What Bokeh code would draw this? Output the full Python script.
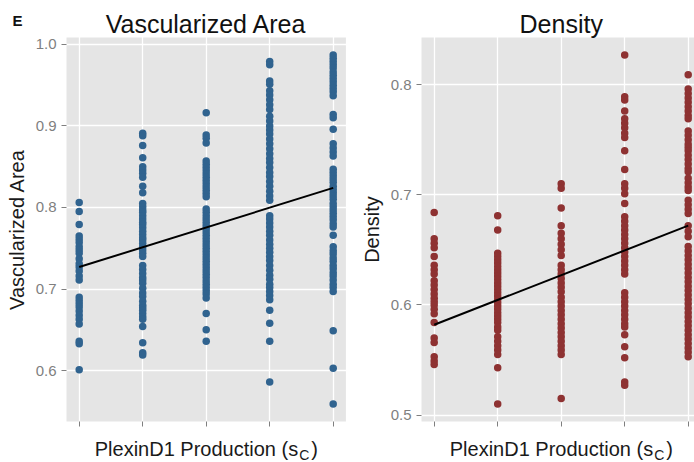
from bokeh.plotting import figure
from bokeh.layouts import row
from bokeh.models import FixedTicker, Label, Range1d
from bokeh.embed import file_html
from bokeh.resources import INLINE

# ---------------- data ----------------
levels = [1, 2, 3, 4, 5]

area_s1 = [0.806, 0.795, 0.779, 0.765, 0.761, 0.757, 0.752, 0.748, 0.744, 0.737, 0.731,
           0.727, 0.722, 0.716, 0.711, 0.690, 0.686, 0.682, 0.678, 0.673, 0.668, 0.663,
           0.657, 0.636, 0.633, 0.601]
area_s2 = [0.891, 0.888, 0.876, 0.861, 0.850, 0.846, 0.842, 0.837, 0.826, 0.818, 0.805,
           0.801, 0.797, 0.794, 0.790, 0.786, 0.782, 0.779, 0.775, 0.771, 0.767, 0.763,
           0.760, 0.756, 0.752, 0.748, 0.744, 0.740, 0.729, 0.724, 0.719, 0.714, 0.711,
           0.707, 0.701, 0.695, 0.691, 0.685, 0.680, 0.677, 0.674, 0.670, 0.666, 0.663,
           0.654, 0.634, 0.622, 0.619]
area_s3 = [0.916, 0.889, 0.885, 0.879, 0.857, 0.853, 0.849, 0.845, 0.841, 0.837, 0.833,
           0.829, 0.825, 0.821, 0.817, 0.813, 0.798, 0.794, 0.790, 0.786, 0.782, 0.778,
           0.774, 0.770, 0.766, 0.762, 0.758, 0.754, 0.750, 0.746, 0.742, 0.738, 0.734,
           0.730, 0.726, 0.722, 0.718, 0.714, 0.710, 0.706, 0.702, 0.698, 0.694, 0.689,
           0.670, 0.650, 0.636]
area_s4 = [0.979, 0.975, 0.955, 0.951, 0.943, 0.938, 0.932, 0.926, 0.920, 0.912, 0.906,
           0.900, 0.895, 0.890, 0.884, 0.878, 0.872, 0.866, 0.860, 0.855, 0.849, 0.843,
           0.838, 0.832, 0.826, 0.820, 0.814, 0.809, 0.790, 0.786, 0.781, 0.776, 0.771,
           0.766, 0.760, 0.755, 0.750, 0.745, 0.740, 0.735, 0.729, 0.723, 0.717, 0.712,
           0.706, 0.702, 0.697, 0.692, 0.687, 0.674, 0.658, 0.636, 0.586]
area_s5 = [0.987, 0.983, 0.979, 0.975, 0.971, 0.966, 0.962, 0.958, 0.954, 0.950, 0.946,
           0.942, 0.937, 0.914, 0.910, 0.896, 0.878, 0.873, 0.868, 0.863, 0.847, 0.843,
           0.839, 0.835, 0.831, 0.826, 0.822, 0.818, 0.814, 0.810, 0.805, 0.801, 0.797,
           0.793, 0.789, 0.785, 0.780, 0.776, 0.766, 0.752, 0.747, 0.743, 0.738, 0.734,
           0.729, 0.725, 0.720, 0.716, 0.711, 0.706, 0.702, 0.697, 0.649, 0.603, 0.559]

density_s1 = [0.684, 0.660, 0.656, 0.652, 0.644, 0.636, 0.632, 0.628, 0.622, 0.618, 0.614,
              0.610, 0.606, 0.603, 0.600, 0.596, 0.592, 0.584, 0.570, 0.566, 0.553, 0.549,
              0.546]
density_s2 = [0.681, 0.668, 0.647, 0.644, 0.641, 0.638, 0.635, 0.632, 0.629, 0.626, 0.623,
              0.620, 0.617, 0.614, 0.611, 0.608, 0.605, 0.602, 0.599, 0.596, 0.593, 0.590,
              0.587, 0.584, 0.580, 0.577, 0.571, 0.567, 0.563, 0.559, 0.555, 0.543, 0.510]
density_s3 = [0.710, 0.706, 0.688, 0.672, 0.665, 0.660, 0.655, 0.650, 0.645, 0.636, 0.632,
              0.628, 0.624, 0.620, 0.616, 0.612, 0.607, 0.603, 0.599, 0.595, 0.591, 0.587,
              0.583, 0.579, 0.575, 0.571, 0.567, 0.563, 0.559, 0.555, 0.515]
density_s4 = [0.827, 0.789, 0.786, 0.776, 0.769, 0.765, 0.761, 0.756, 0.752, 0.740, 0.723,
              0.710, 0.706, 0.701, 0.692, 0.680, 0.676, 0.672, 0.668, 0.664, 0.660, 0.656,
              0.652, 0.648, 0.644, 0.640, 0.636, 0.632, 0.628, 0.611, 0.607, 0.603, 0.599,
              0.595, 0.591, 0.587, 0.583, 0.580, 0.573, 0.562, 0.552, 0.530, 0.527]
density_s5 = [0.809, 0.796, 0.792, 0.788, 0.784, 0.780, 0.776, 0.772, 0.769, 0.758, 0.754,
              0.750, 0.746, 0.743, 0.740, 0.736, 0.732, 0.728, 0.724, 0.721, 0.715, 0.711,
              0.707, 0.704, 0.695, 0.691, 0.687, 0.683, 0.672, 0.667, 0.662, 0.653, 0.649,
              0.645, 0.641, 0.637, 0.633, 0.629, 0.625, 0.621, 0.617, 0.613, 0.609, 0.605,
              0.601, 0.597, 0.593, 0.589, 0.585, 0.581, 0.577, 0.573, 0.569, 0.565, 0.561,
              0.557, 0.553]

fit_x = [1, 5]
area_fit = [0.727, 0.824]
density_fit = [0.582, 0.672]

area_ticks = [0.6, 0.7, 0.8, 0.9, 1.0]
area_tick_labels = ["0.6", "0.7", "0.8", "0.9", "1.0"]
density_ticks = [0.5, 0.6, 0.7, 0.8]
density_tick_labels = ["0.5", "0.6", "0.7", "0.8"]

titles = ["Vascularized Area", "Density"]
x_label = "PlexinD1 Production (s"
x_label_sub = "C"

# ---------------- styling / layout ----------------
FONT = "Liberation Sans"
BLUE = "#30638F"
RED = "#8E3232"
PANEL = "#E5E5E5"
GREY = "#7F7F7F"
TEXT = "#1A1A1A"

H = 462
PANEL_TOP = 37        # px from top of canvas
PANEL_BOTTOM = 421    # px from top of canvas
UNIT_PX = 63.5        # px per x unit


def make_panel(groups, fit, yticks, ylabels, title, color, width, panel_left, x_end,
               panel_letter=None):
    xs, ys = [], []
    for lvl, vals in zip(levels, groups):
        xs += [lvl] * len(vals)
        ys += vals
    lo, hi = min(ys), max(ys)
    pad = 0.05 * (hi - lo)
    y0, y1 = lo - pad, hi + pad
    x0 = 0.8

    # full-canvas frame, panel region mapped to its pixel box
    ppu_y = (PANEL_BOTTOM - PANEL_TOP) / (y1 - y0)
    yr = Range1d(y0 - (H - PANEL_BOTTOM) / ppu_y, y1 + PANEL_TOP / ppu_y)
    xr = Range1d(x0 - panel_left / UNIT_PX, x0 + (width - panel_left) / UNIT_PX)

    p = figure(width=width, height=H, output_backend="svg", toolbar_location=None,
               x_range=xr, y_range=yr,
               min_border_left=0, min_border_right=0, min_border_top=0, min_border_bottom=0)
    p.title.visible = False
    p.background_fill_color = "white"
    p.border_fill_color = "white"
    p.outline_line_color = None

    # grey panel
    p.quad(left=[x0], right=[x_end], bottom=[y0], top=[y1], fill_color=PANEL,
           line_color=None, level="image")

    p.scatter(xs, ys, size=7.5, fill_color=color, line_color=None)
    p.line(fit_x, fit, line_color="black", line_width=2)

    # y axis, pinned to the panel's left edge
    ya = p.yaxis[0]
    ya.fixed_location = x0
    ya.bounds = (y0, y1)
    ya.ticker = FixedTicker(ticks=yticks)
    ya.major_label_overrides = {t: l for t, l in zip(yticks, ylabels)}
    ya.minor_tick_line_color = None
    ya.axis_line_color = None
    ya.major_tick_line_color = GREY
    ya.major_tick_out = 5
    ya.major_tick_in = 0
    ya.major_label_standoff = 5
    ya.major_label_text_color = GREY
    ya.major_label_text_font = FONT
    ya.major_label_text_font_size = "15px"
    ya.axis_label = title
    ya.axis_label_text_font = FONT
    ya.axis_label_text_font_style = "normal"
    ya.axis_label_text_font_size = "20px"
    ya.axis_label_text_color = TEXT
    ya.axis_label_standoff = 5

    # x axis, pinned to the panel's bottom edge
    xa = p.xaxis[0]
    xa.fixed_location = y0
    xa.ticker = FixedTicker(ticks=levels)
    xa.major_label_overrides = {t: "" for t in levels}
    xa.minor_tick_line_color = None
    xa.axis_line_color = None
    xa.major_tick_line_color = GREY
    xa.major_tick_out = 5
    xa.major_tick_in = 0

    p.xgrid.ticker = FixedTicker(ticks=levels)
    for g in (p.xgrid[0], p.ygrid[0]):
        g.grid_line_color = "white"
        g.grid_line_width = 1.3

    cx = (levels[0] + levels[-1]) / 2
    # panel title (anchor = vertical middle of the text)
    p.add_layout(Label(x=cx, y=y1, y_offset=14, text=title, text_align="center",
                       text_baseline="middle", text_font=FONT, text_font_size="25px",
                       text_color="#111111"))
    # x axis label with subscript
    p.add_layout(Label(x=cx, y=y0, x_offset=92, y_offset=-27, text=x_label, text_align="right",
                       text_baseline="middle", text_font=FONT, text_font_size="20px",
                       text_color=TEXT))
    p.add_layout(Label(x=cx, y=y0, x_offset=93, y_offset=-33, text=x_label_sub,
                       text_align="left", text_baseline="middle", text_font=FONT,
                       text_font_size="14px", text_color=TEXT))
    p.add_layout(Label(x=cx, y=y0, x_offset=105, y_offset=-27, text=")", text_align="left",
                       text_baseline="middle", text_font=FONT, text_font_size="20px",
                       text_color=TEXT))
    if panel_letter:
        p.add_layout(Label(x=x0, y=y1, x_offset=-54, y_offset=17, text=panel_letter,
                           text_align="left", text_baseline="middle", text_font=FONT,
                           text_font_size="15px", text_font_style="bold",
                           text_color="#111111"))
    return p


p1 = make_panel([area_s1, area_s2, area_s3, area_s4, area_s5], area_fit, area_ticks,
                area_tick_labels, titles[0], BLUE, 350, 66, 5.2, panel_letter="E")
p2 = make_panel([density_s1, density_s2, density_s3, density_s4, density_s5], density_fit,
                density_ticks, density_tick_labels, titles[1], RED, 344, 421 - 350, 5.2)

layout = row(p1, p2)
open("out.html", "w").write(file_html(layout, INLINE))
